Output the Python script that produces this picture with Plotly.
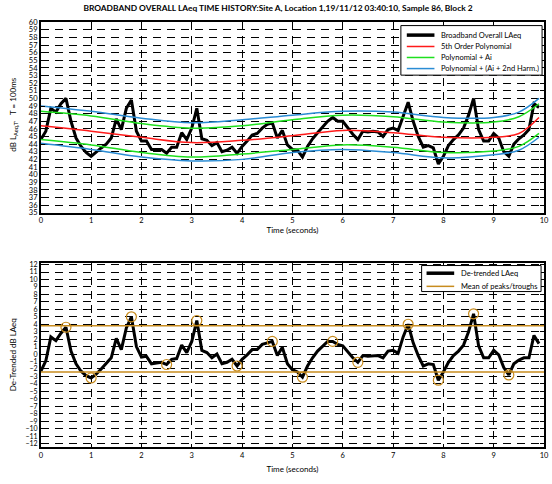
import plotly.graph_objects as go

W, H = 552, 484

# ---------------- data ----------------
time_s = [round(0.1 * i, 1) for i in range(100)]

laeq = [44.6, 45.7, 48.7, 48.2, 49.3, 50.0, 47.0, 44.8, 43.7, 42.9,
        42.4, 43.0, 43.5, 44.0, 44.8, 47.3, 45.9, 48.7, 49.8, 45.7,
        44.4, 44.4, 43.3, 43.3, 43.3, 42.8, 43.6, 43.6, 45.5, 44.6,
        46.1, 48.7, 44.7, 44.5, 43.8, 44.2, 43.0, 43.2, 43.6, 42.8,
        43.7, 44.4, 45.2, 45.4, 46.1, 46.6, 46.8, 44.8, 45.8, 43.9,
        43.3, 43.2, 42.3, 43.7, 44.7, 45.5, 46.3, 47.0, 47.5, 47.0,
        47.0, 46.1, 45.3, 44.6, 45.7, 45.6, 45.7, 45.6, 45.0, 45.9,
        46.1, 45.8, 47.8, 49.5, 47.0, 45.0, 43.6, 43.8, 43.5, 41.4,
        42.4, 43.8, 44.6, 45.2, 46.1, 47.8, 50.0, 45.9, 44.4, 44.4,
        45.4, 44.8, 43.0, 42.4, 44.0, 44.7, 45.2, 45.9, 49.3, 48.8]

fit_t = [0, 1, 2, 3, 4, 5, 6, 7, 8, 9, 9.5, 9.9]
poly5 = [46.4, 45.7, 44.9, 44.2, 44.5, 45.1, 45.8, 45.5, 44.9, 44.9, 45.4, 47.5]
poly_ai_hi = [48.3, 47.7, 46.7, 46.1, 46.4, 47.2, 47.8, 47.6, 46.9, 46.9, 47.6, 49.3]
poly_ai_lo = [44.6, 43.9, 42.9, 42.3, 42.7, 43.3, 43.9, 43.6, 42.9, 43.1, 43.7, 45.4]
poly_h2_hi = [49.0, 48.3, 47.4, 46.8, 47.2, 47.8, 48.3, 48.2, 47.5, 47.5, 48.2, 50.0]
poly_h2_lo = [44.1, 43.3, 42.3, 41.8, 42.0, 42.9, 43.3, 42.9, 42.2, 42.6, 43.2, 44.9]

detrended = [-2.3, -0.9, 2.3, 1.8, 2.8, 3.6, 0.4, -1.3, -2.3, -2.9,
             -3.2, -2.7, -2.0, -1.3, -0.5, 2.1, 0.6, 3.5, 5.0, 1.0,
             -0.4, -0.3, -1.3, -1.2, -1.1, -1.4, -0.7, -0.6, 1.2, 0.2,
             1.7, 4.5, 0.5, 0.2, -0.5, 0.0, -1.3, -1.1, -0.7, -1.6,
             -0.7, -0.1, 0.6, 0.6, 1.3, 1.5, 1.7, -0.2, 0.9, -1.3,
             -2.1, -2.4, -3.1, -1.6, -0.5, 0.4, 1.1, 1.7, 1.7, 1.3,
             1.1, 0.3, -0.5, -1.1, -0.2, -0.3, -0.2, -0.2, -0.5, 0.4,
             0.5, 0.1, 2.3, 4.0, 1.5, -0.2, -1.6, -1.3, -1.4, -3.5,
             -2.4, -1.1, -0.2, 0.4, 1.2, 3.0, 5.4, 1.1, -0.5, -0.5,
             0.5, -0.1, -1.8, -2.8, -1.3, -0.8, -0.5, -0.5, 2.5, 1.4]

extrema_t = [0.5, 1.0, 1.8, 2.5, 3.1, 3.9, 4.6, 5.2, 5.8, 6.3, 7.3, 7.9, 8.6, 9.3]
extrema_v = [3.6, -3.2, 5.0, -1.4, 4.5, -1.6, 1.7, -3.1, 1.7, -1.1, 4.0, -3.5, 5.4, -2.8]
mean_peaks = 3.8
mean_troughs = -2.4

# ---------------- style ----------------
FONT = "Lato"
BLACK = "#000000"
RED = "#FF1A1A"
GREEN = "#1EE01E"
BLUE = "#2A8CD4"
GOLD = "#C88C1E"


def px(x):
    return x / W


def py(y):
    return 1 - y / H


fig = go.Figure()

# top panel
fig.add_trace(go.Scatter(x=time_s, y=laeq, mode="lines", line=dict(color=BLACK, width=3),
                         name="Broadband Overall LAeq", xaxis="x", yaxis="y", showlegend=False))
fig.add_trace(go.Scatter(x=fit_t, y=poly5, mode="lines", line=dict(color=RED, width=1.5, shape="spline"),
                         name="5th Order Polynomial", xaxis="x", yaxis="y", showlegend=False))
for arr in (poly_ai_hi, poly_ai_lo):
    fig.add_trace(go.Scatter(x=fit_t, y=arr, mode="lines", line=dict(color=GREEN, width=1.5, shape="spline"),
                             name="Polynomial + Ai", xaxis="x", yaxis="y", showlegend=False))
for arr in (poly_h2_hi, poly_h2_lo):
    fig.add_trace(go.Scatter(x=fit_t, y=arr, mode="lines", line=dict(color=BLUE, width=1.5, shape="spline"),
                             name="Polynomial + (Ai + 2nd Harm.)", xaxis="x", yaxis="y", showlegend=False))

# bottom panel
fig.add_trace(go.Scatter(x=time_s, y=detrended, mode="lines", line=dict(color=BLACK, width=3),
                         name="De-trended LAeq", xaxis="x2", yaxis="y2", showlegend=False))
fig.add_trace(go.Scatter(x=[0, 10, None, 0, 10], y=[mean_peaks, mean_peaks, None, mean_troughs, mean_troughs],
                         mode="lines", line=dict(color=GOLD, width=1.5),
                         name="Mean of peaks/troughs", xaxis="x2", yaxis="y2", showlegend=False))
fig.add_trace(go.Scatter(x=extrema_t, y=extrema_v, mode="markers",
                         marker=dict(symbol="circle-open", size=10, color=GOLD, line=dict(width=1.2)),
                         name="peaks/troughs", xaxis="x2", yaxis="y2", showlegend=False))

XDOM = [px(39.3), px(549)]
TOP_DOM = [py(212.7), py(18.5)]
BOT_DOM = [py(451.7), py(264)]

common = dict(showline=True, linecolor=BLACK, linewidth=1.5, mirror="ticks",
              ticks="inside", ticklen=4, tickcolor=BLACK, tickwidth=1,
              showgrid=True, gridcolor=BLACK, gridwidth=1, griddash="8px,6px",
              zeroline=False, ticklabeloverflow="allow")

fig.update_layout(
    width=W, height=H, autosize=False,
    margin=dict(l=0, r=0, t=0, b=0),
    paper_bgcolor="white", plot_bgcolor="white",
    font=dict(family=FONT, color=BLACK),
    xaxis=dict(domain=XDOM, range=[0, 10], dtick=1, anchor="y",
               tickfont=dict(family=FONT, size=7.5, color=BLACK),
               title=dict(text="Time (seconds)", font=dict(family=FONT, size=8), standoff=3), **common),
    yaxis=dict(domain=TOP_DOM, range=[35, 60], dtick=1, anchor="x",
               tickfont=dict(family=FONT, size=7.5, color=BLACK), **common),
    xaxis2=dict(domain=XDOM, range=[0, 10], dtick=1, anchor="y2",
                tickfont=dict(family=FONT, size=7.5, color=BLACK),
                title=dict(text="Time (seconds)", font=dict(family=FONT, size=8), standoff=7), **common),
    yaxis2=dict(domain=BOT_DOM, range=[-12.5, 12.2], tickvals=list(range(-12, 13)), anchor="x2",
                tickfont=dict(family=FONT, size=7, color=BLACK), **common),
    title=dict(text="<b>BROADBAND OVERALL LAeq TIME HISTORY:Site A, Location 1,19/11/12 03:40:10, Sample 86, Block 2</b>",
               x=px(278), xanchor="center", y=py(8), yanchor="middle",
               font=dict(family=FONT, size=8.4, color=BLACK)),
)

# ---------- y-axis titles and legends (boxes with sample lines + text) ----------
shapes = []
annotations = [
    dict(xref="paper", yref="paper", x=px(12), y=py(113), text="dB L<sub>Aeq,T'</sub>   T = 100ms",
         textangle=-90, showarrow=False, xanchor="center", yanchor="middle",
         font=dict(family=FONT, size=8, color=BLACK)),
    dict(xref="paper", yref="paper", x=px(12), y=py(357), text="De-Trended dB LAeq",
         textangle=-90, showarrow=False, xanchor="center", yanchor="middle",
         font=dict(family=FONT, size=8, color=BLACK)),
]


def legend_box(x0, y0, x1, y1):
    shapes.append(dict(type="rect", xref="paper", yref="paper", x0=px(x0), x1=px(x1), y0=py(y1), y1=py(y0),
                       line=dict(color=BLACK, width=1), fillcolor="white", layer="above"))


def legend_entry(x0, x1, y, color, width, text, tx):
    shapes.append(dict(type="line", xref="paper", yref="paper", x0=px(x0), x1=px(x1), y0=py(y), y1=py(y),
                       line=dict(color=color, width=width), layer="above"))
    annotations.append(dict(xref="paper", yref="paper", x=px(tx), y=py(y), text=text, showarrow=False,
                            xanchor="left", yanchor="middle", font=dict(family=FONT, size=7.5, color=BLACK)))


legend_box(404, 22, 547, 72.5)
legend_entry(410, 438, 31.7, BLACK, 3.5, "Broadband Overall LAeq", 442.5)
legend_entry(410, 438, 43.3, RED, 1.5, "5th Order Polynomial", 442.5)
legend_entry(410, 438, 54.5, GREEN, 1.5, "Polynomial + Ai", 442.5)
legend_entry(410, 438, 65.8, BLUE, 1.5, "Polynomial + (Ai + 2nd Harm.)", 442.5)

legend_box(425, 266.5, 546, 293)
legend_entry(430, 458, 274.3, BLACK, 3.5, "De-trended LAeq", 462.5)
legend_entry(430, 458, 287.7, GOLD, 1.5, "Mean of peaks/troughs", 462.5)

fig.update_layout(shapes=shapes, annotations=annotations)

fig.write_html("out.html", config={"displayModeBar": False},
               post_script="document.body.style.margin='0px';document.body.style.overflow='hidden';")
